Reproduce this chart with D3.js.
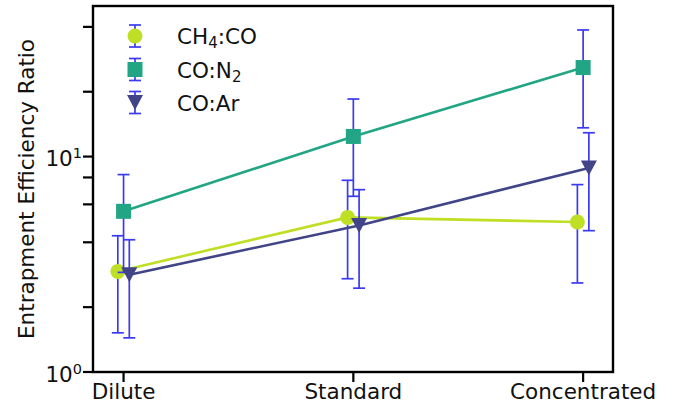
<!DOCTYPE html>
<html>
<head>
<meta charset="utf-8">
<script src="https://cdn.jsdelivr.net/npm/d3@7"></script>
<style>
  body { margin: 0; background: #fff; }
  svg { font-family: "DejaVu Sans", sans-serif; }
</style>
</head>
<body>
<div id="chart"></div>
<script>
var categories = ["Dilute", "Standard", "Concentrated"];

// values and error bar ends
var ch4co   = [2.93, 5.22, 4.97];
var ch4coLo = [1.52, 2.71, 2.59];
var ch4coHi = [4.29, 7.76, 7.41];

var con2   = [5.57, 12.4, 25.9];
var con2Lo = [2.9, 6.54, 13.6];
var con2Hi = [8.25, 18.5, 38.7];

var coar   = [2.83, 4.79, 8.86];
var coarLo = [1.44, 2.45, 4.53];
var coarHi = [4.11, 7.02, 12.9];

var majorTicks = [1, 10];
var majorExp = ["0", "1"];
var minorTicks = [2, 4, 6, 8, 20, 40];

var series = [
	{name: "CH4:CO", values: ch4co, lo: ch4coLo, hi: ch4coHi, color: "#bfdf25", shape: "circle", off: -0.025},
	{name: "CO:N2",  values: con2,  lo: con2Lo,  hi: con2Hi,  color: "#22a584", shape: "square", off: 0},
	{name: "CO:Ar",  values: coar,  lo: coarLo,  hi: coarHi,  color: "#414487", shape: "tri",    off: 0.025}
];

var errColor = "#3a3af2";
var textColor = "#111";
var fontSize = 21.5;

var W = 686, H = 408;
var mLeft = 93, mRight = 613, mTop = 6, mBottom = 372;

var svg = d3.select("#chart").append("svg").attr("width", W).attr("height", H);

var x = d3.scaleLinear().domain([-0.133, 2.13]).range([mLeft, mRight]);
var y = d3.scaleLog().domain([1, 50]).range([mBottom, mTop]);

function drawMarker(g, shape, cx, cy, color)
{
	if (shape == "circle") {
		g.append("circle").attr("cx", cx).attr("cy", cy).attr("r", 7.5).attr("fill", color);
	} else if (shape == "square") {
		g.append("rect").attr("x", cx - 7.5).attr("y", cy - 7.5).attr("width", 15).attr("height", 15).attr("fill", color);
	} else {
		g.append("path").attr("d", "M" + (cx - 8) + "," + (cy - 7.5) + "L" + (cx + 8) + "," + (cy - 7.5) + "L" + cx + "," + (cy + 7.5) + "Z").attr("fill", color);
	}
}

function drawErr(g, cx, y1, y2)
{
	g.append("line").attr("x1", cx).attr("x2", cx).attr("y1", y1).attr("y2", y2);
	g.append("line").attr("x1", cx - 6).attr("x2", cx + 6).attr("y1", y1).attr("y2", y1);
	g.append("line").attr("x1", cx - 6).attr("x2", cx + 6).attr("y1", y2).attr("y2", y2);
}

var plot = svg.append("g");

series.forEach(function(s) {
	var eg = plot.append("g").attr("stroke", errColor).attr("stroke-width", 1.7);
	s.values.forEach(function(v, i) {
		drawErr(eg, x(i + s.off), y(s.lo[i]), y(s.hi[i]));
	});
	var line = d3.line()
		.x(function(d, i) { return x(i + s.off); })
		.y(function(d) { return y(d); });
	plot.append("path").attr("d", line(s.values)).attr("fill", "none")
		.attr("stroke", s.color).attr("stroke-width", 2.6);
	var mg = plot.append("g");
	s.values.forEach(function(v, i) {
		drawMarker(mg, s.shape, x(i + s.off), y(v), s.color);
	});
});

// frame
svg.append("rect").attr("x", mLeft).attr("y", mTop).attr("width", mRight - mLeft).attr("height", mBottom - mTop)
	.attr("fill", "none").attr("stroke", "#000").attr("stroke-width", 2.4);

// ticks
var ticks = svg.append("g").attr("stroke", "#000").attr("stroke-width", 2.2);
majorTicks.concat(minorTicks).forEach(function(t) {
	ticks.append("line").attr("x1", mLeft - 10).attr("x2", mLeft).attr("y1", y(t)).attr("y2", y(t));
});
categories.forEach(function(c, i) {
	ticks.append("line").attr("x1", x(i)).attr("x2", x(i)).attr("y1", mBottom).attr("y2", mBottom + 10);
});

majorTicks.forEach(function(t, i) {
	var txt = svg.append("text").attr("x", 82).attr("y", y(t) + 9.5)
		.attr("text-anchor", "end").attr("font-size", fontSize).attr("fill", textColor);
	txt.append("tspan").text("10");
	txt.append("tspan").attr("dy", -8).attr("font-size", 14.5).text(majorExp[i]);
});

svg.selectAll("text.xlab").data(categories).enter().append("text")
	.attr("class", "xlab")
	.attr("x", function(d, i) { return x(i); })
	.attr("y", 399)
	.attr("text-anchor", "middle").attr("font-size", fontSize).attr("fill", textColor)
	.text(function(d) { return d; });

svg.append("text").attr("transform", "translate(34," + ((mTop + mBottom) / 2) + ") rotate(-90)")
	.attr("text-anchor", "middle").attr("font-size", fontSize).attr("fill", textColor)
	.text("Entrapment Efficiency Ratio");

// legend
var legendRows = [36, 69.5, 102.5];
series.forEach(function(s, i) {
	var ly = legendRows[i];
	var lg = svg.append("g");
	var eg = lg.append("g").attr("stroke", errColor).attr("stroke-width", 1.7);
	drawErr(eg, 135, ly - 11, ly + 11);
	drawMarker(lg, s.shape, 135, ly, s.color);
	var t = lg.append("text").attr("x", 177).attr("y", ly + 8).attr("font-size", fontSize).attr("fill", textColor);
	if (s.name == "CH4:CO") {
		t.append("tspan").text("CH");
		t.append("tspan").attr("font-size", 15).attr("dy", 4).text("4");
		t.append("tspan").attr("dy", -4).text(":CO");
	} else if (s.name == "CO:N2") {
		t.append("tspan").text("CO:N");
		t.append("tspan").attr("font-size", 15).attr("dy", 4).text("2");
	} else {
		t.text(s.name);
	}
});
</script>
</body>
</html>
